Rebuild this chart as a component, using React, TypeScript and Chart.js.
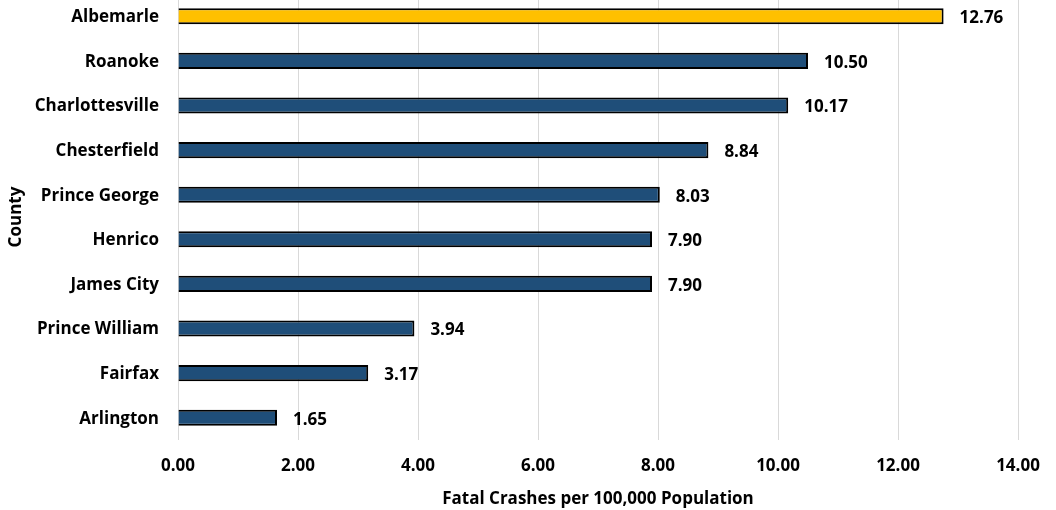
import React, { useEffect, useRef } from "react";
import { Chart, registerables } from "chart.js";

Chart.register(...registerables);

const counties: string[] = [
  "Albemarle",
  "Roanoke",
  "Charlottesville",
  "Chesterfield",
  "Prince George",
  "Henrico",
  "James City",
  "Prince William",
  "Fairfax",
  "Arlington",
];

const fatalRates: number[] = [12.76, 10.5, 10.17, 8.84, 8.03, 7.9, 7.9, 3.94, 3.17, 1.65];

const highlightCounty = "Albemarle";

const xTitle = "Fatal Crashes per 100,000 Population";
const yTitle = "County";

const FONT_FAMILY = "'Open Sans', Lato, sans-serif";
const FONT_SIZE = 17;
const BLUE = "#1F4E79";
const GOLD = "#FFC000";

// Writes each bar's value just past the end of the bar.
const valueLabels = {
  id: "valueLabels",
  afterDatasetsDraw(chart: Chart) {
    const { ctx } = chart;
    const meta = chart.getDatasetMeta(0);
    const data = chart.data.datasets[0].data as number[];
    ctx.save();
    ctx.font = `bold ${FONT_SIZE}px ${FONT_FAMILY}`;
    ctx.fillStyle = "#000000";
    ctx.textAlign = "left";
    ctx.textBaseline = "middle";
    meta.data.forEach((bar: any, i: number) => {
      ctx.fillText(data[i].toFixed(2), bar.x + 16, bar.y + 2);
    });
    ctx.restore();
  },
};

export default function App() {
  const canvasRef = useRef<HTMLCanvasElement | null>(null);

  useEffect(() => {
    if (!canvasRef.current) return;
    const chart = new Chart(canvasRef.current, {
      type: "bar",
      data: {
        labels: counties,
        datasets: [
          {
            data: fatalRates,
            backgroundColor: counties.map((c) => (c === highlightCounty ? GOLD : BLUE)),
            borderColor: "#000000",
            borderWidth: 2,
            categoryPercentage: 1,
            barPercentage: 0.36,
          },
        ],
      },
      options: {
        indexAxis: "y",
        responsive: false,
        animation: false,
        layout: { padding: { left: 0, right: 38, top: 0, bottom: 0 } },
        plugins: {
          legend: { display: false },
          tooltip: { enabled: false },
        },
        scales: {
          x: {
            min: 0,
            max: 14,
            afterFit: (scale: any) => {
              scale.height = 70;
            },
            ticks: {
              stepSize: 2,
              padding: 16,
              color: "#000000",
              font: { family: FONT_FAMILY, size: FONT_SIZE, weight: "bold" },
              callback: (v: any) => Number(v).toFixed(2),
            },
            grid: { color: "#D9D9D9", lineWidth: 1, drawTicks: false },
            border: { display: false },
            title: {
              display: true,
              text: xTitle,
              color: "#000000",
              font: { family: FONT_FAMILY, size: FONT_SIZE, weight: "bold" },
              padding: { top: 0, bottom: 1 },
            },
          },
          y: {
            afterFit: (scale: any) => {
              scale.width = 178;
              scale.paddingTop = 0;
              scale.paddingBottom = 0;
            },
            ticks: {
              padding: 19,
              labelOffset: 1,
              color: "#000000",
              font: { family: FONT_FAMILY, size: FONT_SIZE, weight: "bold" },
            },
            grid: { display: false, drawTicks: false },
            border: { display: false },
            title: {
              display: true,
              text: yTitle,
              color: "#000000",
              font: { family: FONT_FAMILY, size: FONT_SIZE, weight: "bold" },
              padding: { top: 6, bottom: 0 },
            },
          },
        },
      },
      plugins: [valueLabels],
    });
    return () => chart.destroy();
  }, []);

  return (
    <div
      style={{
        position: "fixed",
        left: 0,
        top: 0,
        width: 1056,
        height: 510,
        overflow: "hidden",
        background: "#ffffff",
      }}
    >
      <canvas
        ref={canvasRef}
        width={1056}
        height={516}
        style={{ position: "absolute", left: 0, top: -6, width: 1056, height: 516 }}
      />
    </div>
  );
}
